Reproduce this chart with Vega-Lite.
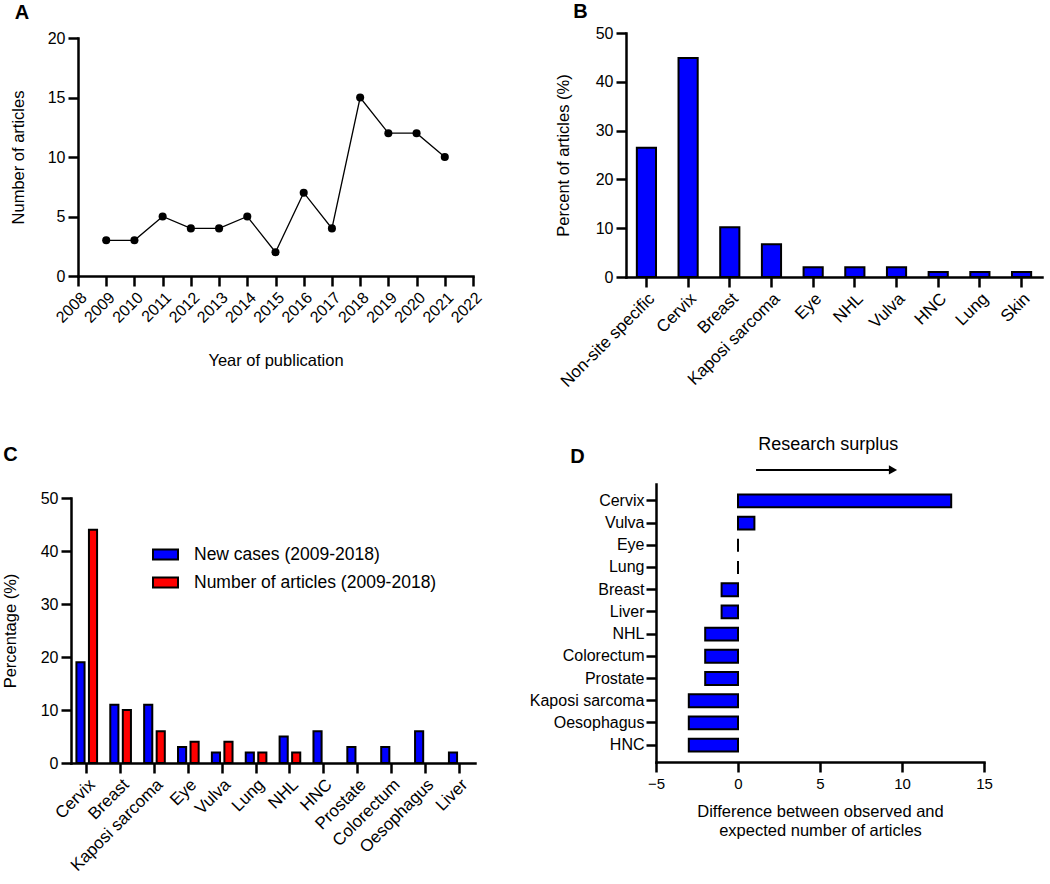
{
  "$schema": "https://vega.github.io/schema/vega-lite/v6.json",
  "description": "Four panels: articles per year, articles by cancer site, new cases vs articles, and observed minus expected articles",
  "padding": {"left": 2, "top": 2, "right": 5, "bottom": 5},
  "config": {
    "font": "Liberation Sans",
    "view": {"stroke": null},
    "axis": {
      "domainColor": "black", "domainWidth": 2.5, "domainCap": "square",
      "tickColor": "black", "tickWidth": 2.5, "tickSize": 10,
      "labelColor": "black", "labelFontSize": 16, "labelPadding": 3,
      "titleColor": "black", "titleFontSize": 16.5, "titleFontWeight": "normal",
      "grid": false
    },
    "title": {"fontSize": 20, "fontWeight": "bold", "anchor": "start", "frame": "bounds", "color": "black"}
  },
  "resolve": {"scale": {"color": "independent"}, "legend": {"color": "independent"}},
  "spacing": 45,
  "vconcat": [
    {
      "spacing": 70,
      "hconcat": [
        {
          "width": 402,
          "height": 243,
          "data": {
            "values": [
              {"year": 2009, "articles": 3},
              {"year": 2010, "articles": 3},
              {"year": 2011, "articles": 5},
              {"year": 2012, "articles": 4},
              {"year": 2013, "articles": 4},
              {"year": 2014, "articles": 5},
              {"year": 2015, "articles": 2},
              {"year": 2016, "articles": 7},
              {"year": 2017, "articles": 4},
              {"year": 2018, "articles": 15},
              {"year": 2019, "articles": 12},
              {"year": 2020, "articles": 12},
              {"year": 2021, "articles": 10}
            ]
          },
          "encoding": {
            "x": {
              "field": "year", "type": "quantitative",
              "scale": {"domain": [2008, 2022], "nice": false, "zero": false, "range": [7, 402]},
              "axis": {
                "values": [2008, 2009, 2010, 2011, 2012, 2013, 2014, 2015, 2016, 2017, 2018, 2019, 2020, 2021, 2022],
                "format": "d", "labelAngle": -45, "labelFlush": false, "labelOverlap": false,
                "title": "Year of publication", "titlePadding": 27
              }
            },
            "y": {
              "field": "articles", "type": "quantitative",
              "scale": {"domain": [0, 20], "nice": false, "range": [243, 5]},
              "axis": {"values": [0, 5, 10, 15, 20], "title": "Number of articles", "titlePadding": 21, "offset": -7}
            }
          },
          "layer": [
            {"mark": {"type": "line", "color": "black", "strokeWidth": 1.3}},
            {"mark": {"type": "circle", "color": "black", "opacity": 1, "size": 65}},
            {
              "data": {"values": [{"letter": "A", "year": 2008, "articles": 20}]},
              "mark": {"type": "text", "fontSize": 20, "fontWeight": "bold", "color": "black", "dx": -56, "dy": -25, "align": "center", "baseline": "middle"},
              "encoding": {"text": {"field": "letter"}}
            }
          ]
        },
        {
          "title": {"text": "B", "dx": 18, "offset": 3},
          "width": 416,
          "height": 244,
          "data": {
            "values": [
              {"site": "Non-site specific", "percent": 26.5},
              {"site": "Cervix", "percent": 44.9},
              {"site": "Breast", "percent": 10.2},
              {"site": "Kaposi sarcoma", "percent": 6.7},
              {"site": "Eye", "percent": 2.0},
              {"site": "NHL", "percent": 2.0},
              {"site": "Vulva", "percent": 2.0},
              {"site": "HNC", "percent": 1.0},
              {"site": "Lung", "percent": 1.0},
              {"site": "Skin", "percent": 1.0}
            ]
          },
          "mark": {"type": "bar", "fill": "#0000ff", "stroke": "black", "strokeWidth": 2},
          "encoding": {
            "x": {
              "field": "site", "type": "nominal", "sort": null,
              "scale": {"paddingInner": 0.54, "paddingOuter": 0.26},
              "axis": {"labelAngle": -45, "labelFontSize": 17, "title": null}
            },
            "y": {
              "field": "percent", "type": "quantitative",
              "scale": {"domain": [0, 50], "nice": false},
              "axis": {"values": [0, 10, 20, 30, 40, 50], "title": "Percent of articles (%)", "titlePadding": 24}
            }
          }
        }
      ]
    },
    {
      "spacing": 54,
      "resolve": {"scale": {"color": "independent"}, "legend": {"color": "independent"}},
      "hconcat": [
        {
          "title": {"text": "C", "dx": 1, "offset": 19},
          "width": 404,
          "height": 279,
          "data": {
            "values": [
              {"site": "Cervix", "series": "New cases (2009-2018)", "pct": 19},
              {"site": "Cervix", "series": "Number of articles (2009-2018)", "pct": 44},
              {"site": "Breast", "series": "New cases (2009-2018)", "pct": 11},
              {"site": "Breast", "series": "Number of articles (2009-2018)", "pct": 10},
              {"site": "Kaposi sarcoma", "series": "New cases (2009-2018)", "pct": 11},
              {"site": "Kaposi sarcoma", "series": "Number of articles (2009-2018)", "pct": 6},
              {"site": "Eye", "series": "New cases (2009-2018)", "pct": 3},
              {"site": "Eye", "series": "Number of articles (2009-2018)", "pct": 4},
              {"site": "Vulva", "series": "New cases (2009-2018)", "pct": 2},
              {"site": "Vulva", "series": "Number of articles (2009-2018)", "pct": 4},
              {"site": "Lung", "series": "New cases (2009-2018)", "pct": 2},
              {"site": "Lung", "series": "Number of articles (2009-2018)", "pct": 2},
              {"site": "NHL", "series": "New cases (2009-2018)", "pct": 5},
              {"site": "NHL", "series": "Number of articles (2009-2018)", "pct": 2},
              {"site": "HNC", "series": "New cases (2009-2018)", "pct": 6},
              {"site": "Prostate", "series": "New cases (2009-2018)", "pct": 3},
              {"site": "Colorectum", "series": "New cases (2009-2018)", "pct": 3},
              {"site": "Oesophagus", "series": "New cases (2009-2018)", "pct": 6},
              {"site": "Liver", "series": "New cases (2009-2018)", "pct": 2}
            ]
          },
          "mark": {"type": "bar", "stroke": "black", "strokeWidth": 2},
          "encoding": {
            "x": {
              "field": "site", "type": "nominal",
              "scale": {
                "domain": ["Cervix", "Breast", "Kaposi sarcoma", "Eye", "Vulva", "Lung", "NHL", "HNC", "Prostate", "Colorectum", "Oesophagus", "Liver"],
                "paddingInner": 0.39, "paddingOuter": 0.16
              },
              "axis": {"labelAngle": -45, "labelFontSize": 17, "title": null}
            },
            "xOffset": {
              "field": "series", "type": "nominal",
              "scale": {"domain": ["New cases (2009-2018)", "Number of articles (2009-2018)"], "paddingInner": 0.35, "paddingOuter": 0}
            },
            "y": {
              "field": "pct", "type": "quantitative",
              "scale": {"domain": [0, 50], "nice": false, "range": [279, 14]},
              "axis": {"values": [0, 10, 20, 30, 40, 50], "title": "Percentage (%)", "titlePadding": 22}
            },
            "color": {
              "field": "series", "type": "nominal",
              "scale": {"domain": ["New cases (2009-2018)", "Number of articles (2009-2018)"], "range": ["#0000ff", "#ff0000"]},
              "legend": {
                "title": null, "orient": "none", "legendX": 81, "legendY": 57,
                "symbolType": "M-1,-0.4L1,-0.4L1,0.4L-1,0.4Z", "symbolSize": 625,
                "symbolStrokeColor": "black", "symbolStrokeWidth": 2, "symbolOpacity": 1,
                "labelFontSize": 17.5, "labelColor": "black", "labelOffset": 15, "labelLimit": 0, "rowPadding": 5
              }
            }
          }
        },
        {
          "title": {"text": "D", "dx": 41, "offset": 0, "dy": 31},
          "width": 328,
          "height": 278,
          "data": {
            "values": [
              {"site": "Cervix", "diff": 13},
              {"site": "Vulva", "diff": 1},
              {"site": "Eye", "diff": 0},
              {"site": "Lung", "diff": 0},
              {"site": "Breast", "diff": -1},
              {"site": "Liver", "diff": -1},
              {"site": "NHL", "diff": -2},
              {"site": "Colorectum", "diff": -2},
              {"site": "Prostate", "diff": -2},
              {"site": "Kaposi sarcoma", "diff": -3},
              {"site": "Oesophagus", "diff": -3},
              {"site": "HNC", "diff": -3}
            ]
          },
          "encoding": {
            "y": {
              "field": "site", "type": "nominal",
              "scale": {
                "domain": ["Cervix", "Vulva", "Eye", "Lung", "Breast", "Liver", "NHL", "Colorectum", "Prostate", "Kaposi sarcoma", "Oesophagus", "HNC"],
                "paddingInner": 0.42, "paddingOuter": 0.47
              },
              "axis": {
                "title": null, "labelFontSize": 16, "labelPadding": 2,
                "labelExpr": "indexof(['Vulva', 'Eye', 'Breast'], datum.value) >= 0 ? datum.value + '\u00a0' : datum.value"
              }
            }
          },
          "layer": [
            {
              "mark": {"type": "bar", "fill": "#0000ff", "stroke": "black", "strokeWidth": 2},
              "encoding": {
                "x": {
                  "field": "diff", "type": "quantitative",
                  "scale": {"domain": [-5, 15], "nice": false},
                  "axis": {
                    "values": [-5, 0, 5, 10, 15], "labelFontSize": 15, "labelFlush": false, "labelPadding": 4,
                    "title": ["Difference between observed and", "expected number of articles"],
                    "titlePadding": 12, "titleLineHeight": 19
                  }
                }
              }
            },
            {
              "data": {"values": [{"zero": 0}]},
              "mark": {"type": "rule", "color": "black", "strokeWidth": 2.5},
              "encoding": {"x": {"field": "zero", "type": "quantitative"}}
            },
            {
              "data": {"values": [{"label": "Research surplus", "xpos": 5.5, "site": "Cervix"}]},
              "mark": {"type": "text", "fontSize": 18, "color": "black", "dy": -56, "align": "center", "baseline": "middle"},
              "encoding": {
                "x": {"field": "xpos", "type": "quantitative"},
                "y": {"field": "site", "type": "nominal"},
                "text": {"field": "label"}
              }
            },
            {
              "data": {"values": [{"start": 1.1, "end": 9.4, "site": "Cervix"}]},
              "mark": {"type": "rule", "color": "black", "strokeWidth": 2, "yOffset": -31},
              "encoding": {
                "x": {"field": "start", "type": "quantitative"},
                "x2": {"field": "end"},
                "y": {"field": "site", "type": "nominal"}
              }
            },
            {
              "data": {"values": [{"tip": 9.45, "site": "Cervix"}]},
              "mark": {"type": "point", "shape": "triangle-right", "filled": true, "color": "black", "opacity": 1, "size": 90, "yOffset": -31},
              "encoding": {
                "x": {"field": "tip", "type": "quantitative"},
                "y": {"field": "site", "type": "nominal"}
              }
            }
          ]
        }
      ]
    }
  ]
}
